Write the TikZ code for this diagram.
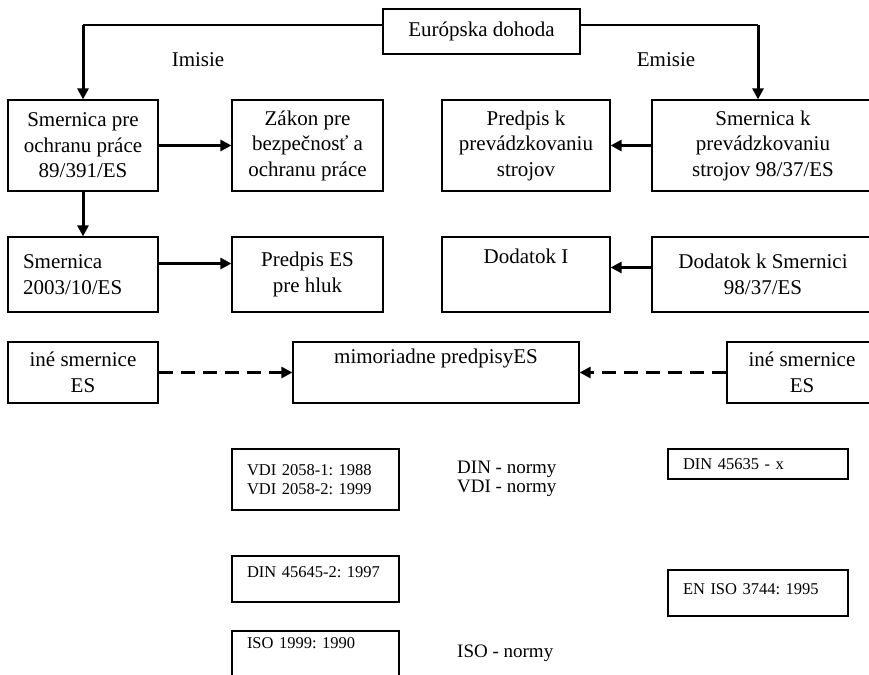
\documentclass[tikz,border=0pt]{standalone}
\usepackage{fontspec}
\setmainfont{Liberation Serif}
\usepackage{tikz}
\usetikzlibrary{arrows.meta}
\frenchspacing

\begin{document}
\begin{tikzpicture}[x=1pt, y=-1pt, >={Triangle[length=11pt,width=11pt]},
  box/.style={draw, line width=1.2pt, inner sep=0pt, align=center, font=\fontsize{21}{25.5}\selectfont},
  small/.style={draw, line width=1.2pt, inner xsep=15pt, inner ysep=0pt, align=left, font=\fontsize{16.5}{19}\selectfont},
  arr/.style={line width=3pt, ->},
  dash_arr/.style={arr, dash pattern=on 14pt off 8pt}]
\useasboundingbox (0,0) rectangle (869,674);

% top
\node[name=eu, box, minimum width=197, minimum height=45] at (481.5,31.5) {Európska dohoda};
\node[name=imisie, font=\fontsize{21}{25.5}\selectfont] at (198,60) {Imisie};
\node[name=emisie, font=\fontsize{21}{25.5}\selectfont] at (666,60) {Emisie};
\coordinate (imis) at (83,25);
\coordinate (emis) at (758,25);

% row 1
\node[name=smer_praca, box, minimum width=150, minimum height=91] at (83,145.5) {Smernica pre\\ochranu práce\\89/391/ES};
\node[name=zakon, box, minimum width=151, minimum height=91] at (307.5,145.5) {Zákon pre\\bezpečnosť a\\ochranu práce};
\node[name=predpis_stroje, box, minimum width=168, minimum height=91] at (526,145.5) {Predpis k\\prevádzkovaniu\\strojov};
\node[name=smer_stroje, box, minimum width=222, minimum height=91] at (763,145.5) {Smernica k\\prevádzkovaniu\\strojov 98/37/ES};

% row 2
\node[name=smer_hluk, box, inner xsep=15pt, text width=120pt, align=left, minimum height=75] at (83,274.5) {Smernica\\2003/10/ES};
\node[name=predpis_hluk, box, minimum width=151, minimum height=75] at (307.5,274.5) {Predpis ES\\pre hluk};
\node[name=dodatok_1, box, minimum width=168, text height=26, text depth=49] at (526,274.5) {Dodatok I};
\node[name=dodatok_smer, box, minimum width=222, minimum height=75] at (763,274.5) {Dodatok k Smernici\\98/37/ES};

% row 3
\node[name=ine_l, box, minimum width=150, minimum height=61] at (83,372.5) {iné smernice\\ES};
\node[name=mimo, box, minimum width=286, text height=21, text depth=40] at (436,372.5) {mimoriadne predpisyES};
\node[name=ine_r, box, minimum width=150, minimum height=61] at (802,372.5) {iné smernice\\ES};

% normy
\node[name=vdi, small, text width=137, minimum height=61] at (315.5,479.5) {VDI 2058-1: 1988\\VDI 2058-2: 1999};
\node[name=din_hluk, small, text width=137, text height=21, text depth=25] at (315.5,579) {DIN 45645-2: 1997};
\node[name=iso_1999, small, text width=137, text height=17, text depth=29] at (315.5,654) {ISO 1999: 1990};
\node[name=din_stroje, small, text width=150, minimum height=30] at (758,464) {DIN 45635 - x};
\node[name=en_iso, small, text width=150, text height=24, text depth=22] at (758,593) {EN ISO 3744: 1995};
\node[name=din_normy, anchor=west, inner sep=0pt, align=left, font=\fontsize{19}{19.5}\selectfont] at (457,479) {DIN - normy\\VDI - normy};
\node[name=iso_normy, anchor=west, inner sep=0pt, font=\fontsize{19}{19.5}\selectfont] at (457,653) {ISO - normy};

\draw[line width=1.2pt] (eu.west |- imis) -- (imis);
\draw[line width=1.2pt] (eu.east |- emis) -- (emis);
\draw(imis) edge[arr](smer_praca.north);
\draw(emis) edge[arr](emis |- smer_stroje.north);
\draw(smer_praca.east) edge[arr](zakon.west);
\draw(smer_stroje.west) edge[arr](predpis_stroje.east);
\draw(smer_praca.south) edge[arr](smer_hluk.north);
\draw([yshift=11pt]smer_hluk.east) edge[arr]([yshift=11pt]predpis_hluk.west);
\draw([yshift=7pt]dodatok_smer.west) edge[arr]([yshift=7pt]dodatok_1.east);
\draw(ine_l.east) edge[dash_arr](mimo.west);
\draw(ine_r.west) edge[dash_arr](mimo.east);
\end{tikzpicture}
\end{document}
